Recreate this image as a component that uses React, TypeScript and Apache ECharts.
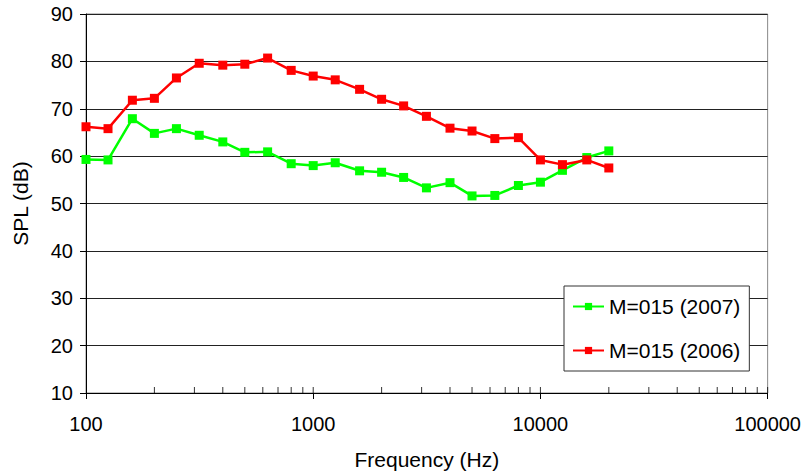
import React, { useEffect, useRef } from "react";
import * as echarts from "echarts";

const frequencies = [100, 125, 160, 200, 250, 315, 400, 500, 630, 800, 1000, 1250, 1600, 2000, 2500, 3150, 4000, 5000, 6300, 8000, 10000, 12500, 16000, 20000];
const spl2007 = [59.3, 59.2, 67.9, 64.8, 65.8, 64.4, 63.0, 60.8, 60.9, 58.4, 58.0, 58.6, 56.9, 56.6, 55.5, 53.3, 54.4, 51.6, 51.7, 53.8, 54.5, 57.0, 59.7, 61.1];
const spl2006 = [66.2, 65.8, 71.8, 72.2, 76.5, 79.6, 79.2, 79.4, 80.7, 78.1, 76.9, 76.1, 74.1, 72.0, 70.6, 68.4, 65.9, 65.3, 63.7, 63.9, 59.2, 58.2, 59.2, 57.5];
const seriesNames = ["M=015 (2007)", "M=015 (2006)"];
const innerTickValues = [200, 300, 400, 500, 600, 700, 800, 900, 1000, 2000, 3000, 4000, 5000, 6000, 7000, 8000, 9000, 10000, 20000, 30000, 40000, 50000, 60000, 70000, 80000, 90000, 100000];

const FONT = "Arial, 'Liberation Sans', sans-serif";

export default function App() {
  const ref = useRef<HTMLDivElement>(null);
  useEffect(() => {
    document.body.style.margin = "0";
    const chart = echarts.init(ref.current!, null, { renderer: "svg" });
    chart.setOption({
      animation: false,
      backgroundColor: "#fff",
      textStyle: { fontFamily: FONT },
      grid: {
        left: 86, right: 35, top: 14, bottom: 82, containLabel: false,
        show: true, borderColor: "#888", borderWidth: 1, backgroundColor: "transparent",
      },
      xAxis: {
        type: "log",
        logBase: 10,
        min: 100,
        max: 100000,
        name: "Frequency (Hz)",
        nameLocation: "middle",
        nameGap: 56,
        nameTextStyle: { fontSize: 21, color: "#000", fontFamily: FONT },
        axisLine: { show: true, lineStyle: { color: "#000", width: 1 } },
        axisTick: { show: true, inside: false, length: 6, lineStyle: { color: "#000" } },
        axisLabel: { fontSize: 20, color: "#000", margin: 21, fontFamily: FONT, formatter: (v: number) => String(Math.round(v)) },
        splitLine: { show: false },
        minorTick: { show: false },
      },
      yAxis: {
        type: "value",
        min: 10,
        max: 90,
        interval: 10,
        name: "SPL (dB)",
        nameLocation: "middle",
        nameGap: 55,
        nameTextStyle: { fontSize: 21, color: "#000", fontFamily: FONT },
        axisLine: { show: true, lineStyle: { color: "#000", width: 1 } },
        axisTick: { show: true, inside: false, length: 6, lineStyle: { color: "#000" } },
        axisLabel: { fontSize: 20, color: "#000", margin: 13, fontFamily: FONT },
        splitLine: { show: true, lineStyle: { color: "#222", width: 1 } },
      },
      legend: {
        data: seriesNames,
        orient: "vertical",
        left: 564,
        top: 286,
        padding: [10, 9, 10, 8],
        itemGap: 23,
        itemWidth: 31,
        itemHeight: 9,
        borderColor: "#333",
        borderWidth: 1,
        backgroundColor: "#fff",
        textStyle: { fontSize: 21, color: "#000", fontFamily: FONT },
      },
      series: [
        {
          name: "ticks",
          type: "scatter",
          data: innerTickValues.map((f) => [f, 10]),
          symbol: "rect",
          symbolSize: [1, 6],
          symbolOffset: [0, -3],
          itemStyle: { color: "#000" },
          silent: true,
          clip: false,
          z: 1,
        },
        {
          name: seriesNames[0],
          type: "line",
          data: frequencies.map((f, i) => [f, spl2007[i]]),
          symbol: "rect",
          symbolSize: 9,
          itemStyle: { color: "#00ff00" },
          lineStyle: { color: "#00ff00", width: 2.5 },
          z: 3,
        },
        {
          name: seriesNames[1],
          type: "line",
          data: frequencies.map((f, i) => [f, spl2006[i]]),
          symbol: "rect",
          symbolSize: 9,
          itemStyle: { color: "#ff0000" },
          lineStyle: { color: "#ff0000", width: 2.5 },
          z: 4,
        },
      ],
    });
    return () => chart.dispose();
  }, []);
  return <div ref={ref} style={{ width: 804, height: 475 }} />;
}
